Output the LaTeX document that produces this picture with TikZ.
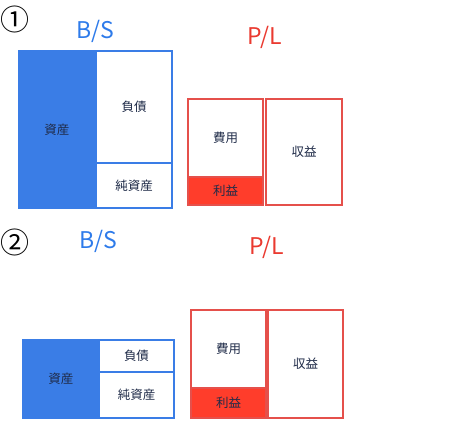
\documentclass[tikz,border=0pt]{standalone}
\usepackage{fontspec}
\setmainfont{Noto Sans CJK JP}
\usetikzlibrary{positioning}
\definecolor{bsblue}{HTML}{3A7DE6}
\definecolor{bstext}{HTML}{2E7BEA}
\definecolor{plred}{HTML}{E5504B}
\definecolor{plfill}{HTML}{FF3D2B}
\definecolor{pltext}{HTML}{EA3A30}
\definecolor{labelink}{HTML}{1F2B48}
\tikzset{
  box/.style={draw, line width=1.3pt, inner sep=0pt, text=labelink,
    font=\fontsize{12.5}{14}\selectfont},
  bsbox/.style={box, draw=bsblue, fill=white},
  plbox/.style={box, draw=plred, fill=white},
  sheettitle/.style={font=\fontsize{23}{26}\selectfont},
  panelno/.style={font=\fontsize{29}{31}\selectfont, inner sep=0pt}
}
\begin{document}
\begin{tikzpicture}[x=1pt,y=-1pt]
    \useasboundingbox (0,0) rectangle (467,439);
    % case 1
    \node[panelno] (num1) at (15,19) {①};
    \node[sheettitle, text=bstext] (bs1) at (95,31) {B/S};
    \node[sheettitle, text=pltext] (pl1) at (265,37) {P/L};
    \node[bsbox, fill=bsblue, minimum width=76pt, minimum height=157pt] (asset1) at (57,129.5) {資産};
    \node[bsbox, minimum width=76pt, minimum height=112pt] (debt1) at (134,107) {負債};
    \node[bsbox, minimum width=76pt, minimum height=45pt] (equity1) at (134,185.5) {純資産};
    \node[plbox, minimum width=75pt, minimum height=78pt] (cost1) at (225.5,138) {費用};
    \node[plbox, fill=plfill, minimum width=75pt, minimum height=28pt] (profit1) at (225.5,191) {利益};
    \node[plbox, minimum width=76pt, minimum height=106pt] (revenue1) at (304,152) {収益};
    % case 2
    \node[panelno] (num2) at (15,242) {②};
    \node[sheettitle, text=bstext] (bs2) at (98,241) {B/S};
    \node[sheettitle, text=pltext] (pl2) at (267,247) {P/L};
    \node[bsbox, fill=bsblue, minimum width=76pt, minimum height=78pt] (asset2) at (61,379) {資産};
    \node[bsbox, minimum width=75pt, minimum height=32pt] (debt2) at (136.5,356) {負債};
    \node[bsbox, minimum width=75pt, minimum height=46pt] (equity2) at (136.5,395) {純資産};
    \node[plbox, minimum width=75pt, minimum height=78pt] (cost2) at (228.5,349) {費用};
    \node[plbox, fill=plfill, minimum width=75pt, minimum height=30pt] (profit2) at (228.5,403) {利益};
    \node[plbox, minimum width=75pt, minimum height=108pt] (revenue2) at (305.5,364) {収益};
\end{tikzpicture}
\end{document}
